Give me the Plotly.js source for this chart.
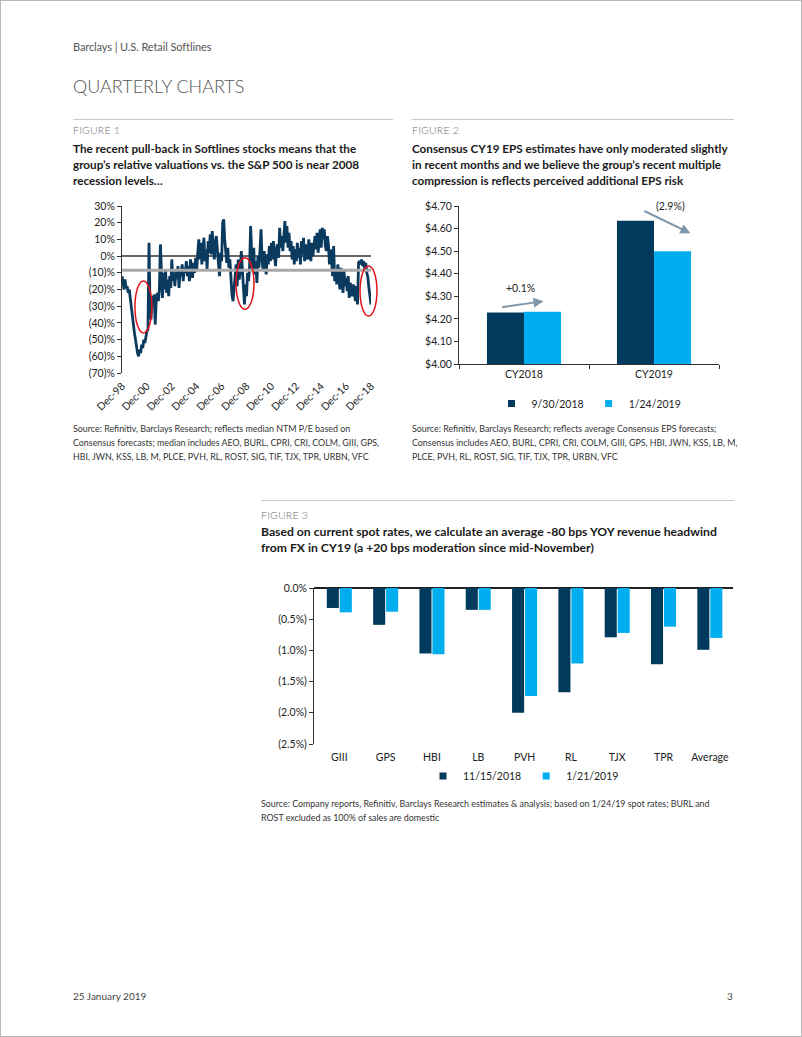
<!DOCTYPE html>
<html>
<head>
<meta charset="utf-8">
<script src="https://cdn.plot.ly/plotly-3.0.1.min.js"></script>
<style>
  html, body { margin:0; padding:0; background:#fff; }
  #page { position:relative; width:802px; height:1037px; box-sizing:border-box; border:1px solid #b9b9b9; font-family: Lato, "Open Sans", sans-serif; overflow:hidden; }
  .t { position:absolute; white-space:nowrap; }
  .hdr { left:72px; top:39px; font-size:11px; color:#555; letter-spacing:-0.1px; }
  .h1 { left:72px; top:74px; font-size:18px; font-weight:300; color:#555; letter-spacing:0px; }
  .rule { position:absolute; height:1px; background:#c9c9c9; }
  .fig { font-size:10.5px; color:#6e6e6e; font-weight:300; letter-spacing:0.2px; }
  .ttl { font-size:11.7px; font-weight:700; color:#1a1a1a; line-height:16px; }
  .src { font-size:8.9px; color:#333; line-height:14px; }
  .plot { position:absolute; }
</style>
</head>
<body>
<div id="page">
  <div class="t hdr">Barclays | U.S. Retail Softlines</div>
  <div class="t h1">QUARTERLY CHARTS</div>

  <div class="rule" style="left:72px; top:118px; width:320px;"></div>
  <div class="rule" style="left:411px; top:118px; width:322px;"></div>

  <div class="t fig" style="left:72px; top:123px;">FIGURE 1</div>
  <div class="t ttl" style="left:72px; top:139px;">The recent pull-back in Softlines stocks means that the<br>group’s relative valuations vs. the S&amp;P 500 is near 2008<br>recession levels…</div>

  <div class="t fig" style="left:411px; top:123px;">FIGURE 2</div>
  <div class="t ttl" style="left:411px; top:139px;">Consensus CY19 EPS estimates have only moderated slightly<br>in recent months and we believe the group’s recent multiple<br>compression is reflects perceived additional EPS risk</div>

  <div id="chart1" class="plot" style="left:60px; top:190px; width:330px; height:235px;"></div>
  <div id="chart2" class="plot" style="left:400px; top:190px; width:340px; height:225px;"></div>

  <div class="t src" style="left:72px; top:421px;">Source: Refinitiv, Barclays Research; reflects median NTM P/E based on<br>Consensus forecasts; median includes AEO, BURL, CPRI, CRI, COLM, GIII, GPS,<br>HBI, JWN, KSS, LB, M, PLCE, PVH, RL, ROST, SIG, TIF, TJX, TPR, URBN, VFC</div>
  <div class="t src" style="left:411px; top:421px;">Source: Refinitiv, Barclays Research; reflects average Consensus EPS forecasts;<br>Consensus includes AEO, BURL, CPRI, CRI, COLM, GIII, GPS, HBI, JWN, KSS, LB, M,<br>PLCE, PVH, RL, ROST, SIG, TIF, TJX, TPR, URBN, VFC</div>

  <div class="rule" style="left:260px; top:499px; width:473px;"></div>
  <div class="t fig" style="left:260px; top:508px;">FIGURE 3</div>
  <div class="t ttl" style="left:260px; top:523px; font-size:12.2px;">Based on current spot rates, we calculate an average -80 bps YOY revenue headwind<br>from FX in CY19 (a +20 bps moderation since mid-November)</div>

  <div id="chart3" class="plot" style="left:250px; top:570px; width:500px; height:220px;"></div>

  <div class="t src" style="left:260px; top:796px;">Source: Company reports, Refinitiv, Barclays Research estimates &amp; analysis; based on 1/24/19 spot rates; BURL and<br>ROST excluded as 100% of sales are domestic</div>

  <div class="t" style="left:72px; top:989px; font-size:10px; color:#444;">25 January 2019</div>
  <div class="t" style="left:726px; top:989px; font-size:10px; color:#444;">3</div>
</div>

<script>
// ---------------- Figure 1 data: relative NTM P/E vs S&P 500 (monthly, %) ----------------
const fig1Start = [1998, 12];
const relPE_1998 = [-12];
const relPE_1999 = [-16,-20,-14,-19,-18,-22,-20,-26,-30,-38,-43,-46];
const relPE_2000 = [-50,-55,-58,-60,-56,-58,-53,-55,-50,-52,-47,-45];
const relPE_2001 = [-44,8,-30,-38,-24,-28,-23,-41,-26,-22,-27,-20];
const relPE_2002 = [7,-18,-25,-10,-20,-8,-22,-14,-24,-12,-19,-2];
const relPE_2003 = [-15,-10,-18,-8,-14,-6,-19,-9,-12,-5,-15,-7];
const relPE_2004 = [-10,-3,-12,-6,-15,-2,-9,-13,-4,-10,-1,-8];
const relPE_2005 = [2,10,-2,8,-5,6,11,-3,4,-8,9,2];
const relPE_2006 = [13,1,15,6,-2,8,12,3,-6,-12,2,-3];
const relPE_2007 = [20,22,10,3,-4,5,-7,-2,-18,-23,-27,-20];
const relPE_2008 = [-12,-5,-18,-2,-14,-8,3,-10,-20,-29,-17,-24];
const relPE_2009 = [-10,-15,-6,18,2,-8,5,-11,-3,-16,0,-7];
const relPE_2010 = [4,16,-2,-9,3,-7,-11,1,-5,6,-3,8];
const relPE_2011 = [-2,9,0,-6,4,7,-1,17,5,12,3,15];
const relPE_2012 = [21,8,18,5,14,3,9,-2,6,-5,4,-3];
const relPE_2013 = [8,-1,5,-5,9,1,11,-3,7,2,-2,10];
const relPE_2014 = [3,-3,8,0,6,12,4,14,2,9,16,5];
const relPE_2015 = [17,10,16,6,3,12,7,-5,4,-2,-12,6];
const relPE_2016 = [-15,-8,-17,-5,-11,-20,-7,-14,-22,-9,-18,-13];
const relPE_2017 = [-21,-12,-25,-16,-19,-24,-17,-22,-27,-18,-29,-4];
const relPE_2018 = [-3,-5,-2,-6,-3,-8,-4,-10,-13,-19,-23,-29];
const relPEMedian = -8.5;
const fig1TickYears = [1998,2000,2002,2004,2006,2008,2010,2012,2014,2016,2018];
const fig1YTicks = [30,20,10,0,-10,-20,-30,-40,-50,-60,-70];
const fig1YLabels = ["30%","20%","10%","0%","(10)%","(20)%","(30)%","(40)%","(50)%","(60)%","(70)%"];

// ---------------- Figure 2 data: consensus EPS ----------------
const fig2Cats = ["CY2018","CY2019"];
const eps_0930 = [4.228, 4.635];
const eps_0124 = [4.232, 4.50];
const fig2Names = ["9/30/2018","1/24/2019"];
const fig2Changes = ["+0.1%","(2.9%)"];
const fig2YTicks = [4.0,4.1,4.2,4.3,4.4,4.5,4.6,4.7];
const fig2YLabels = ["$4.00","$4.10","$4.20","$4.30","$4.40","$4.50","$4.60","$4.70"];

// ---------------- Figure 3 data: FX revenue headwind (%) ----------------
const fig3Cats = ["GIII","GPS","HBI","LB","PVH","RL","TJX","TPR","Average"];
const fx_1115 = [-0.32,-0.59,-1.05,-0.35,-2.00,-1.67,-0.79,-1.22,-0.99];
const fx_0121 = [-0.39,-0.38,-1.06,-0.35,-1.73,-1.21,-0.72,-0.62,-0.80];
const fig3Names = ["11/15/2018","1/21/2019"];
const fig3YTicks = [0,-0.5,-1.0,-1.5,-2.0,-2.5];
const fig3YLabels = ["0.0%","(0.5%)","(1.0%)","(1.5%)","(2.0%)","(2.5%)"];

const DARK = "#0b3a5f", NAVY = "#003a5d", CYAN = "#00aeef";
const FONT = {family:"Lato, 'Open Sans', sans-serif", size:10.5, color:"#222"};
const cfg = {staticPlot:true, displayModeBar:false};

// small square legend keys (legend-only traces, no data drawn)
function legendKey(name, color, x0) {
  return {x:[x0], y:[null], type:"scatter", mode:"markers", name:name,
          marker:{symbol:"square", size:7, color:color}, hoverinfo:"skip", showlegend:true};
}

// ---- build fig 1 ----
const relPE = [].concat(relPE_1998, relPE_1999, relPE_2000, relPE_2001, relPE_2002, relPE_2003,
  relPE_2004, relPE_2005, relPE_2006, relPE_2007, relPE_2008, relPE_2009, relPE_2010, relPE_2011,
  relPE_2012, relPE_2013, relPE_2014, relPE_2015, relPE_2016, relPE_2017, relPE_2018);
const dates = [];
{
  let y = fig1Start[0], m = fig1Start[1];
  for (let i = 0; i < relPE.length; i++) {
    dates.push(y + "-" + String(m).padStart(2,"0") + "-01");
    m++; if (m > 12) { m = 1; y++; }
  }
}
const tickDates = fig1TickYears.map(y => y + "-12-01");
const tickText = fig1TickYears.map(y => "Dec-" + String(y % 100).padStart(2,"0"));

Plotly.newPlot("chart1", [
  {x: dates, y: relPE, type:"scatter", mode:"lines", line:{color:DARK, width:2.8}, hoverinfo:"skip"},
  {x: [dates[0], dates[dates.length-1]], y:[relPEMedian, relPEMedian], type:"scatter", mode:"lines",
   line:{color:"#a9a9a9", width:3}, hoverinfo:"skip"}
], {
  width:330, height:235, margin:{l:61, r:20, t:15, b:53, autoexpand:false},
  showlegend:false, font:FONT, paper_bgcolor:"#fff", plot_bgcolor:"#fff",
  xaxis:{type:"date", range:[dates[0], dates[dates.length-1]], tickvals:tickDates, ticktext:tickText,
         tickangle:-45, showgrid:false, zeroline:false, showline:false, ticks:"", ticklabelstandoff:4, tickfont:{size:10.5, color:"#222"}},
  yaxis:{range:[-70,30], tickvals:fig1YTicks, ticktext:fig1YLabels, showgrid:false,
         zeroline:true, zerolinecolor:"#666", zerolinewidth:2,
         showline:true, linecolor:"#333", linewidth:1, ticks:"outside", ticklen:4, tickcolor:"#333", tickfont:{size:10.5, color:"#222"}},
  shapes:[
    {type:"circle", xref:"x domain", yref:"y domain", x0:0.052, x1:0.12, y0:0.24, y1:0.551, line:{color:"#e2141b", width:1.5}},
    {type:"circle", xref:"x domain", yref:"y domain", x0:0.458, x1:0.530, y0:0.381, y1:0.690, line:{color:"#e2141b", width:1.5}},
    {type:"circle", xref:"x domain", yref:"y domain", x0:0.956, x1:1.024, y0:0.341, y1:0.641, line:{color:"#e2141b", width:1.5}}
  ]
}, cfg);

// ---- build fig 2 ----
Plotly.newPlot("chart2", [
  {x: fig2Cats, y: eps_0930, type:"bar", name:fig2Names[0], marker:{color:NAVY}, hoverinfo:"skip", showlegend:false},
  {x: fig2Cats, y: eps_0124, type:"bar", name:fig2Names[1], marker:{color:CYAN}, hoverinfo:"skip", showlegend:false},
  legendKey(fig2Names[0], NAVY, fig2Cats[0]),
  legendKey(fig2Names[1], CYAN, fig2Cats[0])
], {
  width:340, height:225, margin:{l:58, r:22, t:15, b:52, autoexpand:false},
  barmode:"group", bargap:0.43, bargroupgap:0,
  font:FONT, paper_bgcolor:"#fff", plot_bgcolor:"#fff",
  showlegend:true,
  legend:{orientation:"h", x:0.5, xanchor:"center", y:-0.25, yanchor:"middle", font:{size:10.5, color:"#222"}, itemwidth:30, traceorder:"normal", tracegroupgap:0},
  xaxis:{type:"category", showgrid:false, showline:true, linecolor:"#333", linewidth:1, ticks:"outside", tickson:"boundaries", ticklen:4, tickcolor:"#333", tickfont:{size:10.5}},
  yaxis:{range:[4.0,4.7], tickvals:fig2YTicks, ticktext:fig2YLabels, showgrid:false, zeroline:false,
         showline:true, linecolor:"#333", linewidth:1, ticks:"outside", ticklen:4, tickcolor:"#333", tickfont:{size:10.5}},
  annotations:[
    {x:0.15, y:4.278, ax:-0.18, ay:4.251, xref:"x", yref:"y", axref:"x", ayref:"y", text:"", showarrow:true,
     arrowhead:2, arrowsize:1, arrowwidth:2, arrowcolor:"#7f97aa"},
    {x:-0.03, y:4.335, xref:"x", yref:"y", text:fig2Changes[0], showarrow:false, font:{size:10.5, color:"#222"}},
    {x:1.28, y:4.579, ax:0.914, ay:4.681, xref:"x", yref:"y", axref:"x", ayref:"y", text:"", showarrow:true,
     arrowhead:2, arrowsize:1, arrowwidth:2, arrowcolor:"#7f97aa"},
    {x:1.13, y:4.70, xref:"x", yref:"y", text:fig2Changes[1], showarrow:false, font:{size:10.5, color:"#222"}}
  ]
}, cfg);

// ---- build fig 3 ----
Plotly.newPlot("chart3", [
  {x: fig3Cats, y: fx_1115, type:"bar", name:fig3Names[0], marker:{color:NAVY}, hoverinfo:"skip", showlegend:false},
  {x: fig3Cats, y: fx_0121, type:"bar", name:fig3Names[1], marker:{color:CYAN}, hoverinfo:"skip", showlegend:false},
  legendKey(fig3Names[0], NAVY, fig3Cats[0]),
  legendKey(fig3Names[1], CYAN, fig3Cats[0])
], {
  width:500, height:220, margin:{l:63, r:18, t:17, b:47, autoexpand:false},
  barmode:"group", bargap:0.44, bargroupgap:0.07,
  font:FONT, paper_bgcolor:"#fff", plot_bgcolor:"#fff",
  showlegend:true,
  legend:{orientation:"h", x:0.5, xanchor:"center", y:-0.205, yanchor:"middle", font:{size:10.5, color:"#222"}, itemwidth:30, traceorder:"normal"},
  xaxis:{type:"category", showgrid:false, showline:false, ticks:"", ticklabelstandoff:5, tickfont:{size:10.5}},
  yaxis:{range:[-2.5,0], tickvals:fig3YTicks, ticktext:fig3YLabels, showgrid:false,
         zeroline:true, zerolinecolor:"#222", zerolinewidth:1.5,
         showline:true, linecolor:"#333", linewidth:1, ticks:"outside", ticklen:4, tickcolor:"#333", tickfont:{size:10.5}}
}, cfg);
</script>
</body>
</html>
